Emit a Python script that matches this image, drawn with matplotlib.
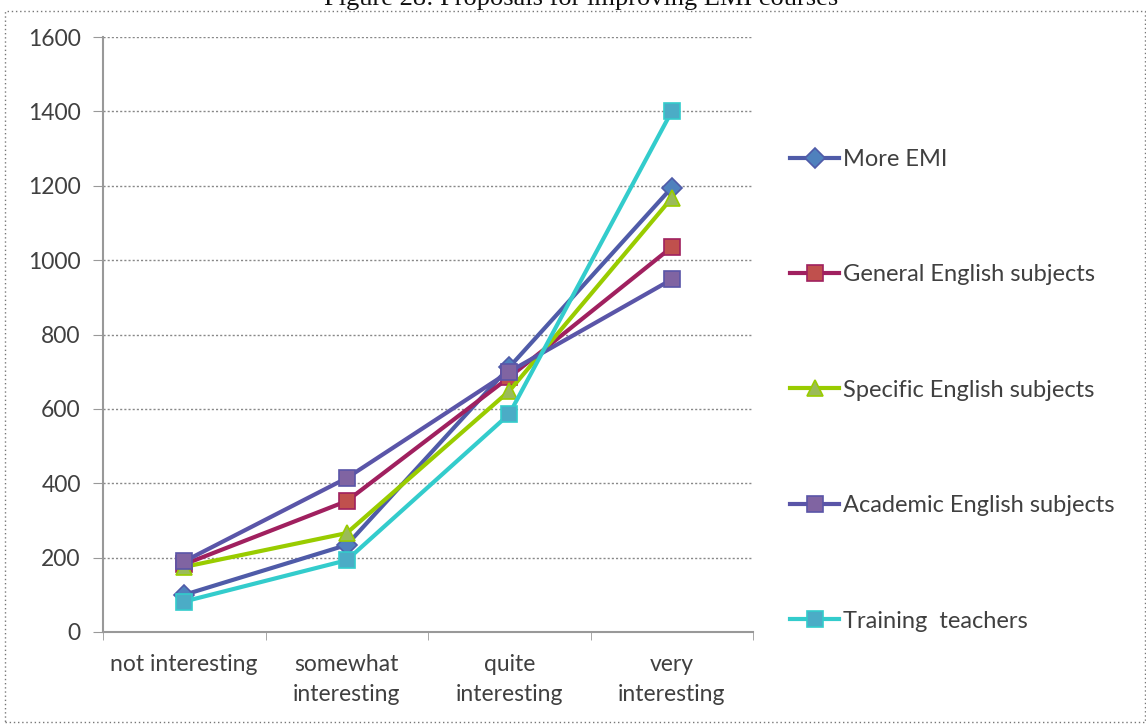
import matplotlib
matplotlib.use("Agg")
import matplotlib.pyplot as plt
from matplotlib.patches import Rectangle

categories = ["not interesting", "somewhat\ninteresting", "quite\ninteresting", "very\ninteresting"]
series_names = ["More EMI", "General English subjects", "Specific English subjects",
                "Academic English subjects", "Training  teachers"]
more_emi = [100, 234, 712, 1195]
general_english = [182, 352, 685, 1035]
specific_english = [175, 266, 648, 1167]
academic_english = [190, 414, 700, 948]
training_teachers = [82, 193, 586, 1400]
y_ticks = [0, 200, 400, 600, 800, 1000, 1200, 1400, 1600]

values = [more_emi, general_english, specific_english, academic_english, training_teachers]
line_colors = ["#4F5BA8", "#A0205F", "#99CC00", "#5A55A8", "#33CCCC"]
face_colors = ["#4F81BD", "#C0504D", "#9BBB59", "#8064A2", "#4BACC6"]
markers = ["D", "s", "^", "s", "s"]
msizes = [10, 12, 12, 12, 12]

plt.rcParams['font.family'] = ['Lato', 'DejaVu Sans']

fig = plt.figure(figsize=(11.46, 7.28), dpi=100)
ax = fig.add_axes([103/1146, 1 - 632/728, 650/1146, 595/728])

x = list(range(len(categories)))
for vals, name, lc, fc, m, ms in zip(values, series_names, line_colors, face_colors, markers, msizes):
    ax.plot(x, vals, color=lc, lw=3.0, marker=m, markersize=ms,
            markerfacecolor=fc, markeredgecolor=lc, markeredgewidth=1.2, label=name)

ax.set_xlim(-0.5, 3.5)
ax.set_ylim(0, 1600)
ax.set_yticks(y_ticks)
ax.set_yticklabels([str(v) for v in y_ticks], fontsize=16.5, color="#404040")
ax.set_xticks(x)
ax.set_xticklabels(categories, fontsize=16.5, color="#404040", linespacing=1.5)
ax.set_xticks([-0.5, 0.5, 1.5, 2.5, 3.5], minor=True)
ax.tick_params(axis='x', which='major', length=0, pad=16)
ax.tick_params(axis='x', which='minor', length=6, color="#999999", direction='out')
ax.tick_params(axis='y', which='major', length=7, color="#999999", direction='out', pad=9)

ax.grid(axis='y', color="#888888", linestyle=(0, (1.5, 1.5)), linewidth=1.0)
ax.set_axisbelow(True)
for s in ["top", "right"]:
    ax.spines[s].set_visible(False)
ax.spines["left"].set_color("#999999")
ax.spines["bottom"].set_color("#999999")
ax.spines["left"].set_linewidth(1.5)
ax.spines["bottom"].set_linewidth(1.5)

leg = ax.legend(loc="upper left", bbox_to_anchor=(778/1146, 1 - 137/728),
                bbox_transform=fig.transFigure, frameon=False, fontsize=17,
                labelspacing=4.0, handlelength=2.1, handletextpad=0.15, borderpad=0)
for t in leg.get_texts():
    t.set_color("#404040")

# dotted frame around chart
fig.add_artist(Rectangle((5/1146, 6/728), 1 - 6/1146, 1 - 17/728, transform=fig.transFigure,
                         fill=False, edgecolor="#777777", linestyle=(0, (1, 2)), linewidth=1.0))

fig.text(581/1146, 1 - 5/728, "Figure 28: Proposals for improving EMI courses",
         ha="center", va="baseline", fontsize=19, family="Liberation Serif", color="#111111")

fig.savefig("out.png", dpi=100, facecolor="white")
